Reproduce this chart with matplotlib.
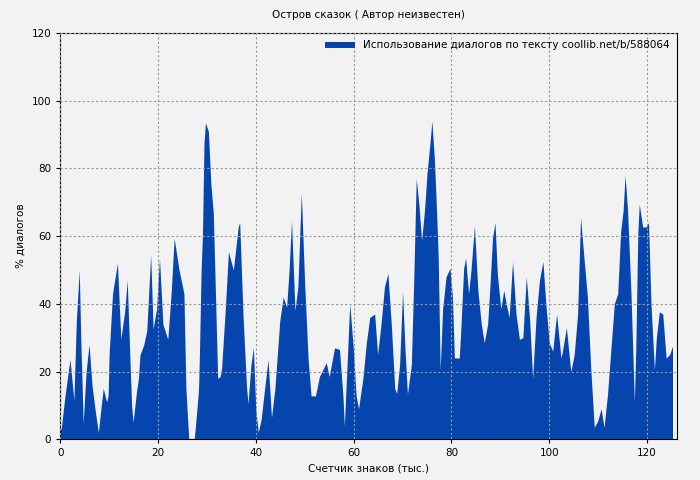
import numpy as np
import matplotlib.pyplot as plt

# position in text (thousands of chars) and dialogue share (%)
pos = [0.0, 0.2, 1.0, 2.0, 2.8, 3.3, 3.9, 4.2, 4.7, 5.3, 5.9, 6.5, 7.2, 7.8,
       8.4, 8.8, 9.5, 9.8, 10.0, 10.7, 11.7, 12.4, 13.2, 13.7, 14.3, 14.6, 14.9,
       15.6, 16.0, 16.3, 17.1, 17.7, 18.5, 19.0, 19.7, 20.3, 21.0, 22.0, 22.7,
       23.3, 24.3, 25.3, 25.7, 26.1, 26.3, 27.4, 27.6, 28.0, 28.3, 28.5, 28.8,
       29.1, 29.4, 29.7, 30.3, 30.8, 31.3, 31.8, 32.2, 32.7, 33.0, 33.7, 34.4,
       35.4, 36.4, 36.7, 37.4, 38.1, 38.4, 39.0, 39.5, 40.0, 40.5, 41.1, 41.8,
       42.5, 43.2, 43.9, 44.9, 45.6, 46.3, 46.8, 47.3, 48.0, 48.6, 49.3, 50.0,
       50.7, 51.3, 52.2, 53.0, 54.4, 55.0, 56.1, 57.1, 57.8, 58.1, 58.6, 59.2,
       59.9, 60.5, 61.0, 61.9, 62.6, 63.3, 64.3, 64.9, 65.6, 66.3, 67.0, 67.7,
       68.4, 68.8, 69.4, 70.0, 70.5, 71.0, 71.8, 72.3, 72.8, 73.3, 73.9, 74.5,
       75.0, 75.6, 76.0, 76.5, 76.9, 77.3, 77.7, 78.2, 78.9, 79.7, 80.2, 80.6,
       81.6, 81.9, 82.5, 82.9, 83.5, 84.0, 84.7, 85.4, 86.1, 86.7, 87.4, 87.9,
       88.4, 88.9, 89.4, 90.1, 90.7, 91.2, 91.8, 92.5, 93.2, 93.9, 94.6, 95.3,
       96.0, 96.6, 97.3, 98.0, 98.7, 99.3, 100.0, 100.7, 101.5, 102.4, 102.7,
       103.5, 104.4, 105.1, 105.8, 106.4, 107.1, 107.8, 108.5, 109.2, 109.9,
       110.6, 111.2, 111.9, 112.6, 113.3, 114.0, 114.6, 115.1, 115.5, 116.0,
       116.7, 117.4, 117.7, 118.1, 118.4, 119.1, 119.8, 120.3, 120.8, 121.5,
       121.9, 122.5, 123.2, 123.9, 124.6, 125.2]
share = [3, 3, 13, 23.6, 11.5, 35, 50, 30, 4.7, 20, 28, 16, 8, 2,
         10, 15, 11, 13, 25, 43, 52, 29.6, 38, 47, 22, 10, 5,
         14, 18, 24.8, 28, 32, 54.4, 32.6, 38.5, 53.4, 34, 29.5, 43.5,
         59.4, 50, 43, 15, 4.7, 0, 0, 3, 9.5, 15, 27, 49,
         61, 87.5, 93.5, 91, 75.6, 67, 40, 18, 18.5, 21, 37, 55.4,
         50, 62.7, 64, 36, 15.4, 10.5, 22, 27, 8.6, 2, 6, 15,
         23.5, 6.4, 15, 35, 42, 39, 50, 64.5, 38, 45, 72.7, 45.5,
         23.5, 12.8, 12.8, 18.5, 22.6, 18.5, 27, 26.5, 13, 4, 20, 40,
         27.5, 13, 9, 18, 28.5, 36, 37, 25, 34, 45, 49, 34,
         15, 13.5, 22, 43.6, 26.6, 13.3, 22, 47.5, 77, 70, 58.8, 67.7,
         78.5, 87.4, 94, 83, 69.6, 53.5, 20.5, 38.5, 48, 50.5, 42, 24,
         24, 32, 50.5, 53.5, 43, 50, 63, 44, 34, 28.5, 34, 46,
         59.5, 64, 48.5, 38.5, 44, 40, 36, 52.5, 37, 29.5, 30, 48,
         35, 18, 36, 47, 52.5, 40, 28.5, 26, 37, 24, 26,
         33, 20, 25, 37, 65.5, 53.5, 42, 20.5, 3.5, 5.4,
         9, 3.5, 13, 26.5, 40, 43, 61.5, 67.5, 78, 68,
         43.5, 11, 27, 60.5, 69.5, 62.7, 62.7, 64, 40, 20.5,
         30, 37.6, 37, 24, 25, 27.5]

label = 'Использование диалогов по тексту coollib.net/b/588064'
bg = '#f2f2f2'
blue = '#0645ad'

fig = plt.figure(figsize=(7, 4.8), dpi=100, facecolor=bg)
ax = fig.add_axes([0.086, 0.085, 0.881, 0.846], facecolor=bg)

ax.fill_between(pos, share, 0, color=blue, linewidth=0, label=label)

ax.set_xlim(0, 126.1)
ax.set_ylim(0, 120)
ax.set_xticks(np.arange(0, 121, 20))
ax.set_yticks(np.arange(0, 121, 20))
ax.tick_params(labelsize=7.5, direction='out', length=3)
ax.grid(True, color='#999999', linestyle=(0, (2, 2)), linewidth=0.8)
ax.set_axisbelow(False)

ax.set_title('Остров сказок ( Автор неизвестен)', fontsize=7.5, pad=11)
ax.set_xlabel('Счетчик знаков (тыс.)', fontsize=7.5)
ax.set_ylabel('% диалогов', fontsize=7.5)

leg = ax.legend(loc='upper right', fontsize=7.5, frameon=False,
                handlelength=2.8, handleheight=0.5, borderaxespad=0.3)

plt.savefig('out.png', facecolor=bg)
plt.close(fig)
